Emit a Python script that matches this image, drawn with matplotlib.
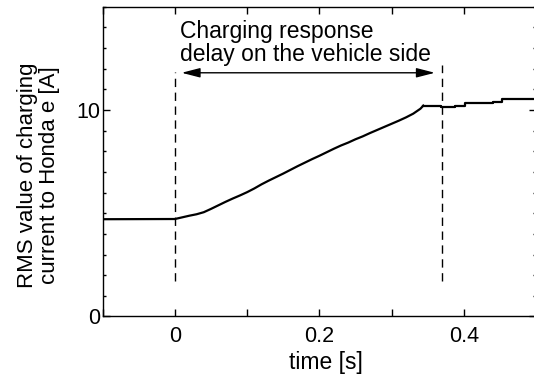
import numpy as np
import matplotlib.pyplot as plt
from matplotlib.ticker import MultipleLocator, FixedLocator

plt.rcParams['font.family'] = ['Liberation Sans', 'DejaVu Sans']
plt.rcParams['font.size'] = 16

# RMS charging current
# ramp part (drawn as a line)
ramp_t = [-0.10, 0.00, 0.01, 0.02, 0.03, 0.04, 0.05, 0.06, 0.07, 0.08, 0.09,
          0.10, 0.11, 0.12, 0.13, 0.14, 0.15, 0.16, 0.17, 0.18, 0.19,
          0.20, 0.21, 0.22, 0.23, 0.24, 0.25, 0.26, 0.27, 0.28, 0.29,
          0.30, 0.31, 0.32, 0.33, 0.34, 0.344]
ramp_i = [4.71, 4.72, 4.80, 4.88, 4.95, 5.05, 5.21, 5.38, 5.55, 5.71, 5.86,
          6.02, 6.20, 6.40, 6.58, 6.75, 6.92, 7.10, 7.28, 7.45, 7.62,
          7.78, 7.95, 8.12, 8.28, 8.42, 8.58, 8.72, 8.88, 9.03, 9.18,
          9.33, 9.48, 9.64, 9.82, 10.06, 10.21]
# plateau part (drawn as steps)
plat_t = [0.344, 0.369, 0.388, 0.402, 0.441, 0.4525, 0.50]
plat_i = [10.21, 10.13, 10.21, 10.32, 10.40, 10.52, 10.52]

# delay markers
delay_start = 0.0
delay_end = 0.37
marker_bottom = 1.7
marker_tops = [11.85, 12.2]
arrow_y = 11.8

fig = plt.figure(figsize=(5.34, 3.78), dpi=100)
ax = fig.add_axes([0.1923, 0.1627, 0.8114, 0.8196])

ax.plot(ramp_t, ramp_i, color='black', lw=1.6)
ax.plot(plat_t, plat_i, color='black', lw=1.6, drawstyle='steps-post')

ax.plot([delay_start, delay_start], [marker_bottom, marker_tops[0]],
        color='black', lw=1.0, ls=(0, (6, 4)))
ax.plot([delay_end, delay_end], [marker_bottom, marker_tops[1]],
        color='black', lw=1.0, ls=(0, (6, 4)))

ax.annotate('', xy=(0.0093, arrow_y), xytext=(0.36, arrow_y),
            arrowprops=dict(arrowstyle='<|-|>,head_length=0.7,head_width=0.18',
                            color='black', lw=1.0, shrinkA=0, shrinkB=0))
ax.text(0.007, 14.35, 'Charging response\ndelay on the vehicle side',
        ha='left', va='top', fontsize=16.5, linespacing=0.98)

ax.set_xlim(-0.1, 0.5)
ax.set_ylim(0, 15)
ax.xaxis.set_major_locator(FixedLocator([0, 0.2, 0.4]))
ax.xaxis.set_minor_locator(FixedLocator([-0.1, 0.1, 0.3]))
ax.yaxis.set_major_locator(FixedLocator([0, 10]))
ax.yaxis.set_minor_locator(MultipleLocator(1))
ax.set_xticklabels(['0', '0.2', '0.4'])
ax.tick_params(which='both', direction='in', top=True, right=True, width=1.0)
ax.tick_params(which='major', length=5, labelsize=15.5)
ax.tick_params(axis='x', which='both', length=5, pad=7)
ax.tick_params(axis='y', which='major', pad=2)
ax.tick_params(axis='y', which='minor', length=2.5)
for s in ax.spines.values():
    s.set_linewidth(1.0)

ax.set_xlabel('time [s]', fontsize=16.5)
ax.xaxis.set_label_coords(0.515, -0.11)
ax.xaxis.label.set_va('top')
fig.text(0.072, 0.537, 'RMS value of charging\ncurrent to Honda e [A]',
         rotation=90, ha='center', va='center', fontsize=16, linespacing=1.05)

fig.savefig('out.png', dpi=100)
